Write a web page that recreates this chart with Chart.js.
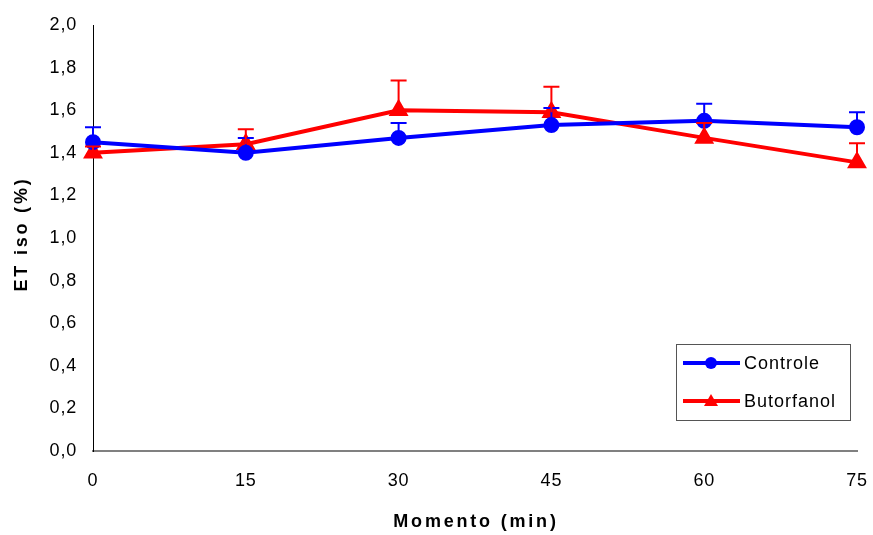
<!DOCTYPE html>
<html>
<head>
<script src="https://cdn.jsdelivr.net/npm/chart.js"></script>
<style>
    body { margin: 0; padding: 0; background: #fff; }
    #wrap { width: 873px; height: 535px; }
</style>
</head>
<body>
<div id="wrap"><canvas id="chart"></canvas></div>
<script>
// Data
const momentos = ['0', '15', '30', '45', '60', '75'];
const controle = [1.45, 1.40, 1.47, 1.53, 1.55, 1.52];
const controleErr = [0.07, 0.07, 0.07, 0.08, 0.08, 0.07];
const butorfanol = [1.40, 1.44, 1.60, 1.59, 1.47, 1.355];
const butorfanolErr = [0.03, 0.07, 0.14, 0.12, 0.07, 0.09];
const yTicks = [0, 0.2, 0.4, 0.6, 0.8, 1.0, 1.2, 1.4, 1.6, 1.8, 2.0];
const xTitle = 'Momento (min)';
const yTitle = 'ET iso (%)';

const FONT = 'Liberation Sans, Arial, sans-serif';

// slightly spread letters, like the original
const spacing = {
    id: 'spacing',
    beforeDraw(chart) { chart.ctx.letterSpacing = '0.8px'; }
};

// Upward-only error bars with caps
const errorBars = {
    id: 'errorBars',
    afterDatasetsDraw(chart) {
        const ctx = chart.ctx;
        const y = chart.scales.y;
        chart.data.datasets.forEach((ds, i) => {
            const meta = chart.getDatasetMeta(i);
            ctx.save();
            ctx.strokeStyle = ds.borderColor;
            ctx.lineWidth = 2;
            meta.data.forEach((pt, j) => {
                const top = y.getPixelForValue(ds.data[j] + ds.errors[j]);
                ctx.beginPath();
                ctx.moveTo(pt.x, pt.y);
                ctx.lineTo(pt.x, top);
                ctx.moveTo(pt.x - 8, top);
                ctx.lineTo(pt.x + 8, top);
                ctx.stroke();
            });
            ctx.restore();
        });
    }
};

// Axis titles with wide letter spacing
const axisTitles = {
    id: 'axisTitles',
    afterDraw(chart) {
        const ctx = chart.ctx;
        const area = chart.chartArea;
        ctx.save();
        ctx.fillStyle = '#000';
        ctx.font = 'bold 18px ' + FONT;
        ctx.letterSpacing = '2.8px';
        ctx.textAlign = 'center';
        ctx.textBaseline = 'middle';
        ctx.fillText(xTitle, (area.left + area.right) / 2 + 1, 522);
        ctx.translate(22, (area.top + area.bottom) / 2 - 4);
        ctx.rotate(-Math.PI / 2);
        ctx.fillText(yTitle, 0, 0);
        ctx.restore();
    }
};

// Boxed legend inside the plot, lower right
const boxLegend = {
    id: 'boxLegend',
    afterDraw(chart) {
        const ctx = chart.ctx;
        const x0 = 676, y0 = 344, w = 174, h = 76;
        ctx.save();
        ctx.fillStyle = '#fff';
        ctx.fillRect(x0, y0, w, h);
        ctx.strokeStyle = '#555';
        ctx.lineWidth = 1;
        ctx.strokeRect(x0 + 0.5, y0 + 0.5, w, h);
        chart.data.datasets.forEach((ds, i) => {
            const cy = y0 + 19 + i * 38;
            ctx.strokeStyle = ds.borderColor;
            ctx.lineWidth = 4;
            ctx.beginPath();
            ctx.moveTo(x0 + 7, cy);
            ctx.lineTo(x0 + 64, cy);
            ctx.stroke();
            ctx.fillStyle = ds.borderColor;
            const mx = x0 + 35;
            ctx.beginPath();
            if (ds.pointStyle === 'triangle') {
                ctx.moveTo(mx, cy - 7);
                ctx.lineTo(mx + 7, cy + 5);
                ctx.lineTo(mx - 7, cy + 5);
                ctx.closePath();
            } else {
                ctx.arc(mx, cy, 6, 0, Math.PI * 2);
            }
            ctx.fill();
            ctx.fillStyle = '#000';
            ctx.font = '18px ' + FONT;
            ctx.letterSpacing = '1px';
            ctx.textBaseline = 'middle';
            ctx.fillText(ds.label, x0 + 68, cy + 1);
        });
        ctx.restore();
    }
};

new Chart(document.getElementById('chart'), {
    type: 'line',
    data: {
        labels: momentos,
        datasets: [
            {
                label: 'Controle',
                data: controle,
                errors: controleErr,
                borderColor: '#0000FF',
                backgroundColor: '#0000FF',
                borderWidth: 4,
                pointStyle: 'circle',
                pointRadius: 6,
                tension: 0
            },
            {
                label: 'Butorfanol',
                data: butorfanol,
                errors: butorfanolErr,
                borderColor: '#FF0000',
                backgroundColor: '#FF0000',
                borderWidth: 4,
                pointStyle: 'triangle',
                pointRadius: 7.5,
                tension: 0
            }
        ]
    },
    options: {
        responsive: true,
        maintainAspectRatio: false,
        animation: false,
        layout: { padding: { top: 25, right: 16, left: 0, bottom: 0 } },
        plugins: {
            legend: { display: false },
            tooltip: { enabled: false }
        },
        scales: {
            x: {
                type: 'category',
                offset: false,
                grid: { display: false, drawTicks: true, tickLength: 5, color: '#808080' },
                border: { color: '#808080', width: 2 },
                ticks: { color: '#000', font: { family: FONT, size: 18 }, padding: 14, maxRotation: 0 },
                title: { display: false },
                afterFit(scale) {
                    scale.height = 84;
                    scale.paddingLeft = 0;
                    scale.paddingRight = 0;
                }
            },
            y: {
                min: 0,
                max: 2,
                afterBuildTicks(scale) { scale.ticks = yTicks.map(v => ({ value: v })); },
                grid: { display: false, drawTicks: true, tickLength: 6, color: '#000' },
                border: { color: '#000', width: 1 },
                ticks: {
                    color: '#000',
                    font: { family: FONT, size: 18 },
                    padding: 10,
                    callback: v => v.toFixed(1).replace('.', ',')
                },
                title: { display: false },
                afterFit(scale) {
                    scale.width = 93;
                    scale.paddingTop = 0;
                    scale.paddingBottom = 0;
                }
            }
        }
    },
    plugins: [spacing, errorBars, axisTitles, boxLegend]
});
</script>
</body>
</html>
